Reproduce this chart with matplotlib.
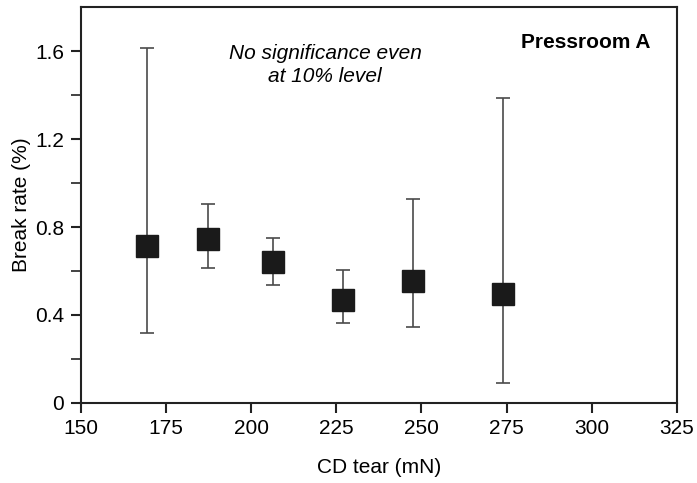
import matplotlib
matplotlib.use("Agg")
import matplotlib.pyplot as plt

plt.rcParams['font.family'] = ['Liberation Sans', 'DejaVu Sans']

cd_tear = [169.3, 187.4, 206.5, 227.0, 247.6, 274.0]
break_rate = [0.714, 0.747, 0.643, 0.470, 0.553, 0.493]
err_upper = [1.614, 0.906, 0.752, 0.603, 0.929, 1.388]
err_lower = [0.318, 0.614, 0.535, 0.361, 0.345, 0.091]
x_ticks = [150, 175, 200, 225, 250, 275, 300, 325]
y_ticks = [0, 0.4, 0.8, 1.2, 1.6]
y_ticks_minor = [0.2, 0.6, 1.0, 1.4]

fig = plt.figure(figsize=(6.97, 4.83), dpi=100)
ax = fig.add_axes([0.116, 0.166, 0.855, 0.819])

yerr = [[b - l for b, l in zip(break_rate, err_lower)],
        [u - b for b, u in zip(break_rate, err_upper)]]
ax.errorbar(cd_tear, break_rate, yerr=yerr, fmt='s', color='#1a1a1a',
            ecolor='#4a4a4a', elinewidth=1.2, capsize=5, capthick=1.2,
            markersize=15.5, zorder=3)

ax.set_xlim(150, 325)
ax.set_ylim(0, 1.8)
ax.set_xticks(x_ticks)
ax.set_yticks(y_ticks)
ax.set_yticklabels(['0', '0.4', '0.8', '1.2', '1.6'])
ax.set_yticks(y_ticks_minor, minor=True)
ax.tick_params(axis='both', which='major', labelsize=15, length=7, width=1.5,
               color='#222222', pad=5)
ax.tick_params(axis='y', which='minor', length=7, width=1.2, color='#222222')
for s in ax.spines.values():
    s.set_linewidth(1.5)
    s.set_color('#222222')

ax.set_xlabel('CD tear (mN)', fontsize=15, labelpad=14)
ax.set_ylabel('Break rate (%)', fontsize=15, labelpad=3)

ax.text(0.41, 0.854, 'No significance even\nat 10% level', transform=ax.transAxes,
        ha='center', va='center', style='italic', fontsize=15, linespacing=1.25)
ax.text(0.848, 0.912, 'Pressroom A', transform=ax.transAxes,
        ha='center', va='center', fontweight='bold', fontsize=15)

fig.savefig('out.png', dpi=100)
